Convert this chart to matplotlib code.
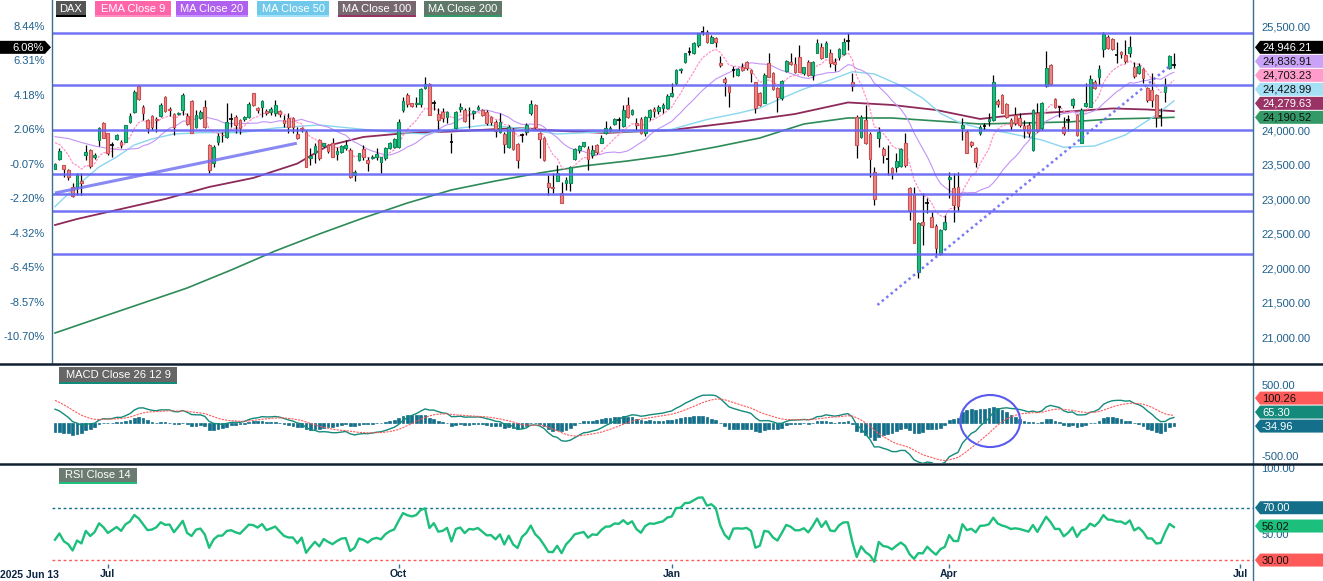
import numpy as np
import pandas as pd
import matplotlib
matplotlib.use('Agg')
import matplotlib.pyplot as plt
from matplotlib.patches import Polygon, Rectangle, Ellipse
from matplotlib.lines import Line2D

plt.rcParams['font.family'] = ['Liberation Sans', 'DejaVu Sans']

# daily DAX candles, 2025 Jun 13 onwards (trading-day index)
opens = [
    23447, 23582, 23495, 23428, 23186, 23186, 23268, 23640, 23718, 23611,
    23863, 24114, 23959, 23790, 23882, 23829, 23834, 24128, 24273, 24645,
    24346, 24152, 24215, 24160, 24210, 24481, 24310, 24239, 24239, 24297,
    24210, 24433, 24046, 24177, 24336, 23790, 23524, 23838, 23940, 23911,
    24165, 24201, 24152, 24162, 24201, 24539, 24331, 24346, 24288, 24273,
    24249, 24283, 24152, 24186, 24177, 23950, 24035, 23983, 23602, 23669,
    23863, 23775, 23790, 23824, 23655, 23694, 23742, 23718, 23355, 23573,
    23728, 23573, 23597, 23611, 23544, 23597, 23742, 23756, 23756, 24297,
    24515, 24394, 24380, 24380, 24611, 24669, 24390, 24239, 24273, 24191,
    23840, 24032, 24307, 24297, 24290, 24249, 24307, 24297, 24273, 24201,
    24128, 23983, 23950, 23766, 23998, 23805, 23935, 23983, 24249, 24370,
    23969, 23887, 23235, 23186, 23273, 23090, 23235, 23244, 23582, 23718,
    23780, 23727, 23645, 23785, 23824, 23959, 24007, 24094, 24150, 24065,
    24369, 24234, 24113, 24161, 23958, 24190, 24306, 24287, 24330, 24321,
    24500, 24683, 24876, 24997, 25130, 25118, 25239, 25420, 25432, 25272,
    25335, 24973, 24741, 24644, 24880, 24804, 24925, 24997, 24876, 24698,
    24538, 24403, 24973, 24838, 24611, 24475, 24867, 24987, 24963, 25060,
    24828, 24997, 24804, 25128, 25205, 25070, 25128, 24997, 25060, 25108,
    25297, 24707, 24200, 23910, 24152, 23949, 23403, 23886, 23727, 23582,
    23451, 23475, 23485, 23823, 23161, 23079, 21944, 22673, 22950, 22741,
    22616, 22210, 22567, 23292, 23161, 23176, 24031, 23978, 23828, 23741,
    23968, 24060, 24142, 24152, 24427, 24514, 24379, 24152, 24224, 24186,
    24065, 24079, 23717, 24258, 24031, 24644, 24949, 24451, 24345, 24045,
    24142, 24369, 24224, 23823, 24355, 24345, 24707, 24770, 25176, 25360,
    25321, 25104, 25133, 25094, 25118, 24915, 24838, 24886, 24611, 24586,
    24514, 24210, 24553, 24900, 24945]
highs = [
    23530, 23742, 23500, 23440, 23235, 23379, 23379, 23790, 23730, 23680,
    24056, 24128, 23970, 23838, 23950, 23863, 24080, 24249, 24587, 24660,
    24370, 24162, 24225, 24201, 24404, 24500, 24346, 24249, 24270, 24539,
    24249, 24442, 24297, 24290, 24442, 23800, 23790, 23959, 23983, 24404,
    24249, 24225, 24165, 24215, 24418, 24545, 24346, 24442, 24310, 24346,
    24442, 24297, 24225, 24249, 24201, 24056, 24056, 24000, 23742, 23814,
    23870, 23824, 23800, 23887, 23757, 23790, 23863, 23740, 23420, 23680,
    23790, 23621, 23640, 23742, 23621, 23766, 23835, 23887, 24162, 24491,
    24539, 24404, 24491, 24620, 24780, 24693, 24442, 24321, 24321, 24288,
    23959, 24280, 24394, 24321, 24340, 24300, 24370, 24310, 24297, 24215,
    24152, 24249, 23983, 24080, 24032, 23815, 23959, 24104, 24442, 24380,
    23983, 23911, 23355, 23379, 23500, 23258, 23331, 23486, 23742, 23790,
    23838, 23775, 23790, 23800, 23935, 24143, 24060, 24176, 24200, 24370,
    24490, 24310, 24186, 24200, 24210, 24306, 24345, 24369, 24393, 24529,
    24683, 24886, 24900, 25128, 25215, 25287, 25418, 25514, 25456, 25383,
    25350, 25080, 24780, 24659, 24934, 24900, 24980, 25010, 24886, 24707,
    24563, 24828, 25118, 24852, 24635, 24731, 25022, 25118, 25070, 25239,
    24925, 25022, 25012, 25321, 25272, 25301, 25176, 25045, 25190, 25335,
    25417, 24828, 24224, 24224, 24369, 23983, 23475, 24055, 23765, 23789,
    23475, 23669, 23741, 23958, 23185, 23185, 22678, 23089, 23016, 22823,
    22644, 22567, 22775, 23403, 23379, 23403, 24176, 24007, 23850, 23765,
    24079, 24103, 24258, 24804, 24451, 24528, 24393, 24176, 24335, 24248,
    24152, 24128, 24306, 24393, 24417, 25152, 24960, 24466, 24355, 24200,
    24224, 24466, 24234, 24321, 24693, 24804, 24731, 24949, 25432, 25383,
    25335, 25287, 25152, 25311, 25369, 24997, 24973, 24900, 24635, 24838,
    24528, 24321, 24755, 25094, 25118]
lows = [
    23440, 23573, 23321, 23283, 23041, 23065, 23065, 23573, 23460, 23590,
    23775, 23887, 23645, 23621, 23860, 23742, 23830, 24104, 24249, 24442,
    24152, 23969, 24007, 23983, 24191, 24273, 24210, 23935, 24225, 24225,
    24080, 23969, 24032, 24160, 24032, 23379, 23476, 23790, 23838, 23887,
    24056, 23959, 23950, 24140, 24177, 24360, 24249, 24201, 24220, 24225,
    24210, 24200, 24056, 23959, 23969, 23872, 23983, 23470, 23500, 23524,
    23573, 23766, 23680, 23611, 23573, 23680, 23718, 23310, 23273, 23560,
    23573, 23418, 23580, 23573, 23379, 23573, 23730, 23742, 23742, 24273,
    24346, 24346, 24346, 24346, 24600, 24220, 24297, 24007, 24128, 24104,
    23679, 24020, 24273, 24128, 24032, 24160, 24290, 24210, 24080, 24080,
    23911, 23969, 23669, 23742, 23718, 23452, 23838, 23935, 24225, 24032,
    23597, 23560, 23065, 23099, 23270, 22945, 23138, 23128, 23573, 23680,
    23760, 23428, 23597, 23660, 23814, 23950, 23990, 24080, 24007, 24046,
    24176, 24220, 24007, 23949, 23920, 24152, 24200, 24234, 24258, 24306,
    24490, 24659, 24840, 24983, 25090, 25108, 25215, 25383, 25272, 25263,
    25215, 24925, 24500, 24345, 24780, 24790, 24860, 24880, 24707, 24258,
    24355, 24393, 24770, 24586, 24273, 24442, 24852, 24948, 24828, 24843,
    24804, 24790, 24731, 25118, 25031, 25060, 24925, 24862, 25022, 25094,
    25166, 24577, 23596, 23886, 23804, 23330, 22920, 23765, 23524, 23355,
    23292, 23403, 23475, 23475, 22702, 22364, 21857, 22340, 22808, 22596,
    22195, 22195, 22558, 23016, 22669, 22838, 23862, 23668, 23760, 23475,
    23934, 24007, 24065, 24142, 24335, 24248, 24176, 24007, 24079, 24055,
    23886, 23910, 23707, 23983, 24007, 24635, 24659, 24321, 24200, 23934,
    23997, 24321, 23920, 23813, 24345, 24335, 24596, 24659, 25060, 25176,
    25166, 24973, 25045, 24973, 25070, 24756, 24818, 24683, 24417, 24335,
    24045, 24065, 24417, 24886, 24900]
closes = [
    23516.25, 23708, 23437, 23321, 23051, 23355, 23235, 23689, 23486, 23645,
    24041, 23896, 23669, 23795, 23930, 23785, 24075, 24210, 24563, 24452,
    24249, 24032, 24056, 24150, 24370, 24288, 24300, 24056, 24259, 24515,
    24094, 23969, 24225, 24273, 24056, 23428, 23757, 23921, 23930, 24128,
    24160, 24080, 24032, 24201, 24384, 24370, 24297, 24428, 24249, 24307,
    24370, 24235, 24104, 24056, 24056, 23887, 24025, 23476, 23626, 23775,
    23597, 23814, 23708, 23621, 23708, 23775, 23790, 23321, 23404, 23669,
    23621, 23524, 23621, 23655, 23611, 23742, 23824, 23872, 24128, 24428,
    24380, 24355, 24404, 24597, 24669, 24225, 24394, 24152, 24177, 24273,
    23838, 24273, 24336, 24143, 24300, 24283, 24336, 24225, 24114, 24119,
    23993, 24128, 23800, 24056, 23727, 23573, 23930, 24080, 24380, 24056,
    23872, 23573, 23176, 23162, 23379, 22954, 23283, 23476, 23727, 23775,
    23829, 23582, 23718, 23694, 23887, 24032, 24041, 24161, 24152, 24297,
    24190, 24297, 24079, 23968, 24200, 24297, 24287, 24335, 24369, 24500,
    24538, 24876, 24891, 25118, 25133, 25263, 25408, 25425, 25287, 25350,
    25287, 24944, 24698, 24562, 24876, 24886, 24876, 24900, 24828, 24321,
    24369, 24804, 24780, 24596, 24490, 24722, 25012, 24958, 24852, 24852,
    24915, 24804, 24997, 25272, 25045, 25263, 24983, 24963, 25176, 25287,
    25292, 24644, 23789, 24200, 23814, 23582, 23002, 23973, 23645, 23585,
    23379, 23562, 23727, 23499, 22838, 22374, 22654, 22630, 22955, 22606,
    22292, 22558, 22673, 23330, 22920, 22910, 24079, 23678, 23789, 23548,
    24045, 24065, 24166, 24697, 24379, 24258, 24190, 24070, 24113, 24079,
    24016, 23958, 24296, 23992, 24403, 24910, 24673, 24335, 24340, 23958,
    24145, 24451, 23934, 24296, 24393, 24741, 24611, 24886, 25398, 25190,
    25176, 25100, 25104, 25007, 25205, 24794, 24939, 24756, 24442, 24442,
    24190, 24212, 24644, 25080, 24946.21]

# slow moving averages (bar index, value)
ma50_idx = [0, 3, 6, 10, 14, 18, 22, 27, 33, 42, 50, 60, 68, 76, 84, 92, 98, 106,
            114, 124, 134, 140, 148, 155, 160, 165, 170, 176, 181, 186, 193, 197,
            201, 205, 210, 216, 224, 229, 236, 243, 250, 254]
ma50_val = [22896, 23080, 23254, 23471, 23616, 23790, 23877, 23949, 23968, 23968,
            24036, 24080, 24029, 23978, 23949, 24036, 24080, 24029, 23949, 23978,
            23985, 24017, 24159, 24249, 24326, 24467, 24601, 24732, 24852, 24819,
            24623, 24467, 24249, 24123, 24032, 23968, 23862, 23756, 23775, 23935,
            24225, 24429]
ma100_idx = [0, 5, 15, 25, 35, 45, 55, 62, 70, 80, 90, 105, 115, 125, 140, 155,
             168, 180, 190, 200, 210, 220, 230, 240, 248, 254]
ma100_val = [22630, 22717, 22862, 23007, 23181, 23312, 23520, 23780, 23906, 23964,
             23985, 24036, 23993, 23964, 24007, 24123, 24239, 24406, 24370, 24297,
             24167, 24239, 24275, 24319, 24304, 24280]
ma200_idx = [0, 10, 20, 30, 40, 50, 60, 70, 80, 90, 100, 110, 120, 130, 140, 150,
             160, 170, 180, 190, 200, 210, 220, 230, 240, 250, 254]
ma200_val = [21065, 21283, 21500, 21717, 21978, 22254, 22500, 22732, 22949, 23138,
             23268, 23384, 23486, 23558, 23645, 23761, 23891, 24094, 24181, 24181,
             24138, 24094, 24109, 24123, 24167, 24181, 24191]
# MA20 before 20 bars of history exist
ma20_head_idx = [0, 3, 6, 9, 12, 15, 18]
ma20_head_val = [23910, 23884, 23826, 23775, 23740, 23720, 23735]
ema9_seed = 23900
ema12_seed, ema26_seed, signal_seed = 23870, 23640, 330
rsi_prev_close, rsi_gain_seed, rsi_loss_seed = 23447, 70, 90

levels = [25406, 24659, 24007, 23370, 23080, 22833, 22210]
trend_solid = ([0, 54.9], [23094, 23815])
trend_dotted = ([186.7, 253.1], [21471, 24935])

price_ticks = [21000, 21500, 22000, 22500, 23000, 23500, 24000, 24500, 25000, 25500]
hidden_price_labels = [24500, 25000]   # covered by the value tags on the right
x_ticks = [12, 78, 140, 203, 269]
x_labels = ['Jul', 'Oct', 'Jan', 'Apr', 'Jul']

main_tags = [24946.21, 24836.91, 24703.23, 24428.99, 24279.63, 24190.52]
macd_tags = [100.26, 65.30, -34.96]
rsi_tags = [70.00, 56.02, 30.00]

# ---------------------------------------------------------------- indicators
o = np.array(opens, float)
h = np.array(highs, float)
l = np.array(lows, float)
c = np.array(closes, float)
n = len(c)
x = np.arange(n)

ema9 = np.zeros(n)
prev = ema9_seed
for i in range(n):
    prev = prev + 0.2 * (c[i] - prev)
    ema9[i] = prev

ma20 = pd.Series(c).rolling(20).mean().values
ma20_x = ma20_head_idx + list(range(19, n))
ma20_y = ma20_head_val + list(ma20[19:])

e12, e26, sig = ema12_seed, ema26_seed, signal_seed
macd = np.zeros(n)
signal = np.zeros(n)
for i in range(n):
    e12 += 2 / 13 * (c[i] - e12)
    e26 += 2 / 27 * (c[i] - e26)
    macd[i] = e12 - e26
    sig += 0.2 * (macd[i] - sig)
    signal[i] = sig
hist = macd - signal

rsi = np.zeros(n)
ag, al, pc = rsi_gain_seed, rsi_loss_seed, rsi_prev_close
for i in range(n):
    d = c[i] - pc
    ag = (ag * 13 + max(d, 0)) / 14
    al = (al * 13 + max(-d, 0)) / 14
    rsi[i] = 100 - 100 / (1 + ag / al)
    pc = c[i]

# ---------------------------------------------------------------- layout
W, H = 1323, 581
fig = plt.figure(figsize=(W / 100, H / 100), dpi=100)


def fbox(x0, y0, x1, y1):
    return [x0 / W, 1 - y1 / H, (x1 - x0) / W, (y1 - y0) / H]


def fp(px, py):
    return (px / W, 1 - py / H)


ax = fig.add_axes(fbox(52, 0, 1253, 363))
ax_m = fig.add_axes(fbox(52, 365, 1253, 463))
ax_r = fig.add_axes(fbox(52, 466, 1253, 564))

XL = (-0.68, 271.96)
axis_col = '#3d6e8f'
lab_col = '#1f5f8b'
for a in (ax, ax_m, ax_r):
    a.set_xlim(*XL)
    for s in a.spines.values():
        s.set_visible(False)
    a.yaxis.tick_right()
    a.tick_params(axis='y', length=0, pad=6, labelcolor=lab_col, labelsize=8)
ax.set_xticks([])
ax_m.set_xticks([])

# ---------------------------------------------------------------- price panel
ax.set_ylim(20630, 25891)
ax.set_yticks(price_ticks)
ax.set_yticklabels(['' if v in hidden_price_labels else f'{v:,.2f}' for v in price_ticks])
base = c[0]
for p in price_ticks:
    ax.text(-0.006, p, f'{(p / base - 1) * 100:.2f}%', transform=ax.get_yaxis_transform(),
            ha='right', va='center', fontsize=8, color=lab_col)

ax.plot(ma200_idx, ma200_val, color='#2e8b57', lw=1.2, zorder=2)
ax.plot(ma100_idx, ma100_val, color='#8e2a5a', lw=1.3, zorder=2)
ax.plot(ma50_idx, ma50_val, color='#8ad6f0', lw=1.0, zorder=2)
ax.plot(ma20_x, ma20_y, color='#c294f8', lw=0.8, zorder=2)
ax.plot(x, ema9, color='#ff92c8', lw=0.9, ls=(0, (2, 1)), zorder=2)

doji = np.abs(c - o) < 8
up = (c > o) & ~doji
dn = (c < o) & ~doji
ax.vlines(x, l, h, color='black', lw=0.9, zorder=3)
bw = 0.62
ax.bar(x[up], (c - o)[up], bottom=o[up], width=bw, color='#20c080', edgecolor='#0e8a5a', lw=0.8, zorder=4)
ax.bar(x[dn], (o - c)[dn], bottom=c[dn], width=bw, color='#e88a8a', edgecolor='#cc5050', lw=0.8, zorder=4)
ax.hlines(c[doji], x[doji] - 0.4, x[doji] + 0.4, color='black', lw=1.2, zorder=4)

for lv in levels:
    ax.axhline(lv, color='#6464f4', lw=1.8, alpha=0.9, zorder=5)
ax.plot(*trend_solid, color='#6c6cf2', lw=2.2, alpha=0.8, zorder=5, solid_capstyle='butt')
ax.plot(*trend_dotted, color='#6c6cf2', lw=1.8, ls=(0, (1, 1.3)), alpha=0.9, zorder=5)

# ---------------------------------------------------------------- MACD panel
ax_m.set_ylim(-516, 761)
ax_m.set_yticks([500, -500])
ax_m.set_yticklabels(['500.00', '-500.00'])
ax_m.get_yticklabels()[1].set_verticalalignment('bottom')
ax_m.bar(x, hist, width=bw, color='#136f8a', edgecolor='#136f8a', lw=0.5, zorder=2)
ax_m.plot(x, macd, color='#138a7a', lw=1.0, zorder=3)
ax_m.plot(x, signal, color='#ff5a5a', lw=0.8, ls=(0, (2, 1)), zorder=3)
ax_m.add_patch(Ellipse((212.3, 31), 13.6, 678, fill=False, edgecolor='#5a5aee', lw=1.5, zorder=4))

# ---------------------------------------------------------------- RSI panel
ax_r.set_ylim(27.0, 101.9)
ax_r.set_yticks([50, 100])
ax_r.set_yticklabels(['50.00', '100.00'])
ax_r.axhline(70, color='#136f8a', lw=1.0, ls=(0, (2, 2)))
ax_r.axhline(30, color='#ff5a5a', lw=1.0, ls=(0, (2, 2)))
ax_r.plot(x, rsi, color='#1dbf7c', lw=1.7, zorder=3)
ax_r.set_xticks(x_ticks)
ax_r.set_xticklabels(x_labels)
ax_r.tick_params(axis='x', length=3.2, width=1, color=axis_col, pad=0.3,
                 labelsize=7.5, labelcolor='#0b2440')
for t in ax_r.get_xticklabels():
    t.set_fontweight('bold')
fig.text(0, 1 - 580 / H, '2025 Jun 13', ha='left', va='bottom', fontsize=7.5,
         fontweight='bold', color='#0b2440')

# ---------------------------------------------------------------- frame lines
fig.add_artist(Line2D([fp(1253, 0)[0]] * 2, [1, 0], transform=fig.transFigure, color=axis_col, lw=1.0))
fig.add_artist(Line2D([fp(52, 0)[0]] * 2, [1, fp(0, 363)[1]], transform=fig.transFigure, color=axis_col, lw=1.0))
for yy in (364, 464):
    fig.add_artist(Line2D([0, 1], [fp(0, yy)[1]] * 2, transform=fig.transFigure, color='#10202e', lw=1.8))


# ---------------------------------------------------------------- labels
def box_label(x0, x1, y0, y1, text, bg, under):
    fig.add_artist(Rectangle(fp(x0, y1), (x1 - x0) / W, (y1 - y0) / H, transform=fig.transFigure,
                             facecolor=bg, edgecolor='none'))
    fig.add_artist(Rectangle(fp(x0, y1 + 2), (x1 - x0) / W, 2 / H, transform=fig.transFigure,
                             facecolor=under, edgecolor='none'))
    fig.text(*fp((x0 + x1) / 2, (y0 + y1) / 2 + 0.5), text, ha='center', va='center',
             fontsize=8, color='white')


legend = [(56, 86, 'DAX', '#555555', '#000000'),
          (95, 171, 'EMA Close 9', '#ff66aa', '#ff8cc0'),
          (176, 248, 'MA Close 20', '#b060ee', '#c890ff'),
          (257, 329, 'MA Close 50', '#70c8ea', '#a0e0f8'),
          (338, 416, 'MA Close 100', '#776870', '#993366'),
          (424, 502, 'MA Close 200', '#5f786a', '#339966')]
for x0, x1, t, bg, un in legend:
    box_label(x0, x1, 1, 15, t, bg, un)
box_label(59, 177, 367, 382, 'MACD Close 26 12 9', '#666666', '#138a7a')
box_label(59, 137, 468, 482, 'RSI Close 14', '#6b7b72', '#1dbf7c')


def data_py(a, v):
    return H - a.transData.transform((0, v))[1]


def stacked(a, vals, gap=14):
    pys = [data_py(a, v) for v in vals]
    out = [0] * len(vals)
    prev = 1e9
    for i in sorted(range(len(vals)), key=lambda k: -pys[k]):
        out[i] = min(pys[i], prev - gap)
        prev = out[i]
    return out


def tag(py, text, bg, fg):
    x0, hh = 1255, 6.5
    pts = [(x0, py), (x0 + 5, py - hh), (W, py - hh), (W, py + hh), (x0 + 5, py + hh)]
    fig.add_artist(Polygon([fp(*p) for p in pts], closed=True, transform=fig.transFigure,
                           facecolor=bg, edgecolor='none', zorder=5))
    fig.text(*fp(x0 + 7, py + 0.5), text, ha='left', va='center', fontsize=8, color=fg, zorder=6)


main_cols = [('#000000', 'white'), ('#c9a2f8', '#111111'), ('#ff9ccc', '#111111'),
             ('#a6e0f6', '#111111'), ('#993366', 'white'), ('#339966', '#111111')]
ys = stacked(ax, main_tags)
for v, yy, (bg, fg) in zip(main_tags, ys, main_cols):
    tag(yy, f'{v:,.2f}', bg, fg)

# left percent tag for the last close
py0 = ys[0]
pts = [(0, py0 - 6.5), (45, py0 - 6.5), (51, py0), (45, py0 + 6.5), (0, py0 + 6.5)]
fig.add_artist(Polygon([fp(*p) for p in pts], closed=True, transform=fig.transFigure,
                       facecolor='black', edgecolor='none', zorder=5))
fig.text(*fp(44, py0 + 0.5), f'{(main_tags[0] / base - 1) * 100:.2f}%', ha='right', va='center',
         fontsize=8, color='white', zorder=6)

macd_cols = [('#ff5a5a', '#111111'), ('#138a7a', 'white'), ('#136f8a', 'white')]
for v, yy, (bg, fg) in zip(macd_tags, stacked(ax_m, macd_tags), macd_cols):
    tag(yy, f'{v:.2f}', bg, fg)
rsi_cols = [('#136f8a', 'white'), ('#1dbf7c', '#111111'), ('#ff5a5a', '#111111')]
for v, yy, (bg, fg) in zip(rsi_tags, stacked(ax_r, rsi_tags), rsi_cols):
    tag(yy, f'{v:.2f}', bg, fg)

fig.savefig('out.png', dpi=100)
